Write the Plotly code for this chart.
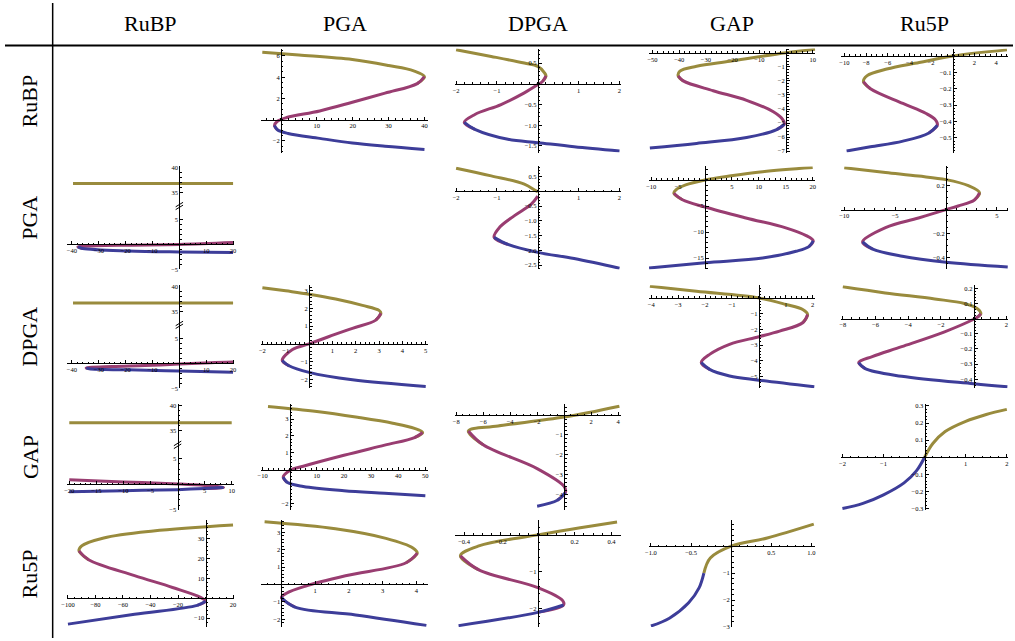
import plotly.graph_objects as go

W, H = 1015, 641
names = ["RuBP", "PGA", "DPGA", "GAP", "Ru5P"]

OLIVE = "rgb(153,139,61)"
PURPLE = "rgb(153,61,113)"
BLUE = "rgb(61,61,153)"

# ---------------- data ----------------
# row RuBP
RuBP_PGA_olive = [(-5.2, 6.36), (5, 6.1), (19.9, 5.67), (30, 5.1), (37, 4.6), (40, 4.05)]
RuBP_PGA_purple = [(40, 4.05), (38, 3.4), (29, 2.5), (19.9, 1.64), (10.8, 0.82), (1.6, 0.2), (-1, -0.15), (-1.8, -0.55)]
RuBP_PGA_blue = [(-1.8, -0.55), (-1, -0.95), (2, -1.3), (10.8, -1.76), (19.9, -2.2), (29, -2.5), (40, -2.8)]

RuBP_DPGA_olive = [(-2, 0.82), (-1.14, 0.66), (-0.33, 0.5), (0, 0.42), (0.16, 0.27), (0.2, 0.19)]
RuBP_DPGA_purple = [(0.2, 0.19), (0.12, 0.06), (0, -0.02), (-0.33, -0.22), (-0.9, -0.5), (-1.54, -0.74), (-1.8, -0.93)]
RuBP_DPGA_blue = [(-1.8, -0.93), (-1.54, -1.1), (-0.73, -1.34), (0, -1.42), (0.89, -1.52), (2, -1.62)]

RuBP_GAP_olive = [(10.9, 0.25), (0, 0), (-21, -0.6), (-33.5, -0.96), (-39.75, -1.3), (-40.4, -1.65)]
RuBP_GAP_purple = [(-40.4, -1.65), (-38.5, -2.0), (-27.3, -2.7), (-14.75, -3.38), (-4.75, -4.2), (-1.2, -4.75), (-0.6, -5.07)]
RuBP_GAP_blue = [(-0.6, -5.07), (-3.5, -5.46), (-14.75, -6.03), (-33.5, -6.45), (-51, -6.77)]

RuBP_Ru5P_olive = [(5, 0.037), (0, 0), (-3.1, -0.04), (-6.1, -0.08), (-7.9, -0.12), (-8.25, -0.157)]
RuBP_Ru5P_purple = [(-8.25, -0.157), (-7.6, -0.2), (-4.6, -0.29), (-2.5, -0.35), (-1.6, -0.39), (-1.42, -0.423)]
RuBP_Ru5P_blue = [(-1.42, -0.423), (-2.2, -0.47), (-4.6, -0.52), (-7.6, -0.555), (-9.8, -0.58)]

# row PGA
PGA_RuBP_olive = [(-39.6, 36.8), (20, 36.8)]
PGA_RuBP_purple = [(20, 0.38), (0, 0.0), (-19, -0.13), (-31, -0.25), (-37.8, -0.5)]
PGA_RuBP_blue = [(-37.8, -0.5), (-36, -0.8), (-19, -1.3), (0, -1.5), (20, -1.6)]

PGA_DPGA_olive = [(-2, 0.79), (-1.14, 0.53), (-0.33, 0.25), (-0.04, 0.02), (0, 0)]
PGA_DPGA_purple = [(0, -0.16), (-0.16, -0.43), (-0.57, -0.82), (-0.93, -1.21), (-1.07, -1.56)]
PGA_DPGA_blue = [(-1.07, -1.56), (-0.73, -1.8), (0, -2.07), (0.89, -2.28), (2, -2.61)]

PGA_GAP_olive = [(20, 2.4), (10.7, 1.6), (4.5, 0.76), (0, 0), (-3.6, -0.95), (-5.4, -1.9), (-5.8, -2.55)]
PGA_GAP_purple = [(-5.8, -2.55), (-4.2, -3.8), (0, -5.2), (7.6, -7.3), (15, -9.2), (18.8, -10.7), (20.1, -11.7)]
PGA_GAP_blue = [(20.1, -11.7), (19.3, -12.8), (16.9, -13.7), (10.7, -15), (0, -15.9), (-10.4, -16.9)]

PGA_Ru5P_olive = [(-10, 0.35), (-5.94, 0.31), (-2.7, 0.28), (0, 0.25), (2.2, 0.2), (3.3, 0.14)]
PGA_Ru5P_purple = [(3.3, 0.14), (2.8, 0.08), (1.2, 0.03), (0, 0), (-2.7, -0.07), (-5.94, -0.15), (-8.2, -0.27)]
PGA_Ru5P_blue = [(-8.2, -0.27), (-7.2, -0.33), (-4.3, -0.39), (0, -0.44), (6.07, -0.48)]

# row DPGA
DPGA_RuBP_olive = [(-39.6, 36.65), (20, 36.65)]
DPGA_RuBP_purple = [(20, 0.26), (11.6, 0.13), (0, -0.13), (-12.8, -0.45), (-25, -0.64), (-34.7, -0.92)]
DPGA_RuBP_blue = [(-34.7, -0.92), (-33.5, -1.1), (-19, -1.3), (0, -1.55), (20, -1.8)]

DPGA_PGA_olive = [(-2, 3.17), (-1, 2.99), (0, 2.8), (1.14, 2.53), (2.29, 2.17), (3, 1.89), (3.08, 1.73)]
DPGA_PGA_purple = [(3.08, 1.73), (2.86, 1.34), (1.86, 0.88), (0.86, 0.42), (0, 0), (-0.71, -0.31), (-1.15, -0.93)]
DPGA_PGA_blue = [(-1.15, -0.93), (-0.86, -1.23), (0, -1.6), (1.86, -2.02), (5, -2.39)]

DPGA_GAP_olive = [(-4.05, 0.74), (-2.32, 0.42), (0, 0), (1.01, -0.42), (1.63, -0.74), (1.81, -1.05)]
DPGA_GAP_purple = [(1.81, -1.05), (1.63, -1.58), (0.77, -2.11), (0, -2.47), (-1.09, -2.95), (-1.83, -3.59), (-2.14, -4.11)]
DPGA_GAP_blue = [(-2.14, -4.11), (-1.83, -4.54), (-1.09, -4.96), (0, -5.23), (2.06, -5.65)]

DPGA_Ru5P_olive = [(-8, 0.21), (-5.41, 0.17), (-2.38, 0.13), (-0.57, 0.1), (0.24, 0.065), (0.44, 0.033)]
DPGA_Ru5P_purple = [(0.44, 0.033), (0.24, 0.011), (0, -0.004), (-1.78, -0.087), (-4.4, -0.185), (-6.2, -0.25), (-7.03, -0.29)]
DPGA_Ru5P_blue = [(-7.03, -0.29), (-6.63, -0.33), (-4.4, -0.38), (0, -0.43), (2.06, -0.45)]

# row GAP
GAP_RuBP_olive = [(-20, 36.6), (10, 36.6)]
GAP_RuBP_purple = [(-20, 0.9), (-10, 0.5), (0, 0.1), (5, -0.2), (8.5, -0.6)]
GAP_RuBP_blue = [(8.5, -0.6), (5, -0.8), (0, -1.0), (-10, -1.2), (-20, -1.4)]

GAP_PGA_olive = [(-8, 3.75), (10, 3.45), (25, 3.1), (38, 2.75), (46, 2.45), (49, 2.2)]
GAP_PGA_purple = [(49, 2.2), (46, 1.9), (35, 1.45), (20, 0.85), (5, 0.2), (0, -0.05), (-2.4, -0.45)]
GAP_PGA_blue = [(-2.4, -0.45), (-1, -0.75), (5, -1.0), (20, -1.25), (35, -1.4), (50, -1.55)]

GAP_DPGA_olive = [(4.1, 0.45), (0, -0.1), (-4.9, -0.55), (-7.1, -0.8)]
GAP_DPGA_purple = [(-7.1, -0.8), (-6, -1.5), (-2, -2.7), (0, -3.6), (0.1, -3.9)]
GAP_DPGA_blue = [(0.1, -3.9), (-0.5, -4.3), (-2, -4.6)]

GAP_Ru5P_olive = [(0, 0), (0.2, 0.08), (0.5, 0.15), (1, 0.21), (1.5, 0.25), (2, 0.28)]
GAP_Ru5P_purple = []
GAP_Ru5P_blue = [(-2, -0.3), (-1.5, -0.27), (-1, -0.22), (-0.5, -0.15), (-0.2, -0.08), (0, 0)]

# row Ru5P
Ru5P_RuBP_olive = [(20, 37), (-38, 34), (-74, 30.5), (-90, 26.5), (-92, 24)]
Ru5P_RuBP_purple = [(-92, 24), (-85, 19.5), (-51.6, 11.5), (-24, 5.5), (-3.6, 0.5), (0, -1.5)]
Ru5P_RuBP_blue = [(0, -1.5), (-6, -3.5), (-51.6, -8), (-100, -13)]

Ru5P_PGA_olive = [(-0.5, 3.6), (1.6, 3.2), (3.1, 2.65), (3.9, 2.1), (4.03, 1.8)]
Ru5P_PGA_purple = [(4.03, 1.8), (3.7, 1.25), (1.9, 0.5), (0.7, -0.1), (0.15, -0.5), (0, -0.75)]
Ru5P_PGA_blue = [(0, -0.75), (0.4, -1.3), (2.2, -1.75), (4.3, -2.35)]

Ru5P_DPGA_olive = [(0.43, 0.35), (0, 0), (-0.32, -0.3), (-0.42, -0.57)]
Ru5P_DPGA_purple = [(-0.42, -0.57), (-0.32, -0.95), (0, -1.43), (0.135, -1.78), (0.14, -1.9)]
Ru5P_DPGA_blue = [(0.14, -1.9), (0, -2.1), (-0.43, -2.46)]

Ru5P_GAP_olive = [(-0.34, -1.0), (-0.26, -0.44), (0, 0), (0.45, 0.3), (1.03, 0.81)]
Ru5P_GAP_purple = []
Ru5P_GAP_blue = [(-1, -2.96), (-0.77, -2.67), (-0.53, -2.1), (-0.4, -1.55), (-0.34, -1.0)]

# ---------------- panel axes (ranges / ticks) ----------------
panels = {
    (0, 1): dict(xr=[-5.5, 41], yr=[-3.1, 6.7], xt=[10, 20, 30, 40], yt=[-2, 2, 4, 6], xd=0, yd=0, xm=2, ym=0.5),
    (0, 2): dict(xr=[-2.03, 2.03], yr=[-1.66, 0.85], xt=[-2, -1, 1, 2], yt=[-1.5, -1.0, -0.5, 0.5], xd=0, yd=1, xm=0.2, ym=0.1),
    (0, 3): dict(xr=[-51.5, 11], yr=[-7.1, 0.3], xt=[-50, -40, -30, -20, -10, 10], yt=[-7, -6, -5, -4, -3, -2, -1], xd=0, yd=0, xm=2, ym=0.2),
    (0, 4): dict(xr=[-10.3, 5.1], yr=[-0.59, 0.045], xt=[-10, -8, -6, -4, -2, 2, 4], yt=[-0.5, -0.4, -0.3, -0.2, -0.1], xd=0, yd=1, xm=0.5, ym=0.02),
    (1, 0): dict(xr=[-42, 20.5], yr=[-5, 15.6], xt=[-40, -30, -20, -10, 10, 20], yt=[-5, 5, 35, 40], xd=0, yd=0, xm=2, ym=None, broken=True),
    (1, 2): dict(xr=[-2.03, 2.03], yr=[-2.65, 0.85], xt=[-2, -1, 1, 2], yt=[-2.5, -2.0, -1.5, -1.0, -0.5, 0.5], xd=0, yd=1, xm=0.2, ym=0.1),
    (1, 3): dict(xr=[-10.5, 20.5], yr=[-17.2, 2.6], xt=[-10, -5, 5, 10, 15, 20], yt=[-15, -10, -5], xd=0, yd=0, xm=1, ym=1),
    (1, 4): dict(xr=[-10.3, 6.1], yr=[-0.5, 0.36], xt=[-10, -5, 5], yt=[-0.4, -0.2, 0.2], xd=0, yd=1, xm=1, ym=0.05),
    (2, 0): dict(xr=[-42, 20.5], yr=[-5, 15.6], xt=[-40, -30, -20, -10, 10, 20], yt=[-5, 5, 35, 40], xd=0, yd=0, xm=2, ym=None, broken=True),
    (2, 1): dict(xr=[-2.05, 5.1], yr=[-2.5, 3.3], xt=[-2, -1, 1, 2, 3, 4, 5], yt=[-2, -1, 1, 2, 3], xd=0, yd=0, xm=0.2, ym=0.2),
    (2, 3): dict(xr=[-4.1, 2.1], yr=[-5.75, 0.8], xt=[-4, -3, -2, -1, 1, 2], yt=[-5, -4, -3, -2, -1], xd=0, yd=0, xm=0.2, ym=0.2),
    (2, 4): dict(xr=[-8.1, 2.1], yr=[-0.46, 0.22], xt=[-8, -6, -4, -2, 2], yt=[-0.4, -0.3, -0.2, -0.1, 0.1, 0.2], xd=0, yd=1, xm=0.5, ym=0.02),
    (3, 0): dict(xr=[-20.5, 10.5], yr=[-5, 15.6], xt=[-20, -15, -10, -5, 5, 10], yt=[-5, 5, 35, 40], xd=0, yd=0, xm=1, ym=None, broken=True),
    (3, 1): dict(xr=[-10.5, 51], yr=[-2.41, 3.88], xt=[-10, 10, 20, 30, 40, 50], yt=[-2, 1, 2, 3], xd=0, yd=0, xm=2, ym=0.2),
    (3, 2): dict(xr=[-8.1, 4.2], yr=[-4.8, 0.55], xt=[-8, -6, -4, -2, 2, 4], yt=[-4, -3, -2, -1], xd=0, yd=0, xm=0.5, ym=0.2),
    (3, 4): dict(xr=[-2.03, 2.03], yr=[-0.31, 0.31], xt=[-2, -1, 1, 2], yt=[-0.3, -0.2, -0.1, 0.1, 0.2, 0.3], xd=0, yd=1, xm=0.2, ym=0.02),
    (4, 0): dict(xr=[-101, 21], yr=[-14.5, 39.5], xt=[-100, -80, -60, -40, -20, 20], yt=[-10, 10, 20, 30], xd=0, yd=0, xm=5, ym=2),
    (4, 1): dict(xr=[-0.6, 4.35], yr=[-2.45, 3.7], xt=[1, 2, 3, 4], yt=[-2, -1, 1, 2, 3], xd=0, yd=0, xm=0.2, ym=0.2),
    (4, 2): dict(xr=[-0.45, 0.45], yr=[-2.5, 0.4], xt=[-0.4, -0.2, 0.2, 0.4], yt=[-2, -1], xd=1, yd=0, xm=0.05, ym=0.2),
    (4, 3): dict(xr=[-1.03, 1.05], yr=[-3.0, 0.96], xt=[-1.0, -0.5, 0.5, 1.0], yt=[-3, -2, -1], xd=1, yd=0, xm=0.1, ym=0.2),
}

curves = {
    (0, 1): (RuBP_PGA_olive, RuBP_PGA_purple, RuBP_PGA_blue),
    (0, 2): (RuBP_DPGA_olive, RuBP_DPGA_purple, RuBP_DPGA_blue),
    (0, 3): (RuBP_GAP_olive, RuBP_GAP_purple, RuBP_GAP_blue),
    (0, 4): (RuBP_Ru5P_olive, RuBP_Ru5P_purple, RuBP_Ru5P_blue),
    (1, 0): (PGA_RuBP_olive, PGA_RuBP_purple, PGA_RuBP_blue),
    (1, 2): (PGA_DPGA_olive, PGA_DPGA_purple, PGA_DPGA_blue),
    (1, 3): (PGA_GAP_olive, PGA_GAP_purple, PGA_GAP_blue),
    (1, 4): (PGA_Ru5P_olive, PGA_Ru5P_purple, PGA_Ru5P_blue),
    (2, 0): (DPGA_RuBP_olive, DPGA_RuBP_purple, DPGA_RuBP_blue),
    (2, 1): (DPGA_PGA_olive, DPGA_PGA_purple, DPGA_PGA_blue),
    (2, 3): (DPGA_GAP_olive, DPGA_GAP_purple, DPGA_GAP_blue),
    (2, 4): (DPGA_Ru5P_olive, DPGA_Ru5P_purple, DPGA_Ru5P_blue),
    (3, 0): (GAP_RuBP_olive, GAP_RuBP_purple, GAP_RuBP_blue),
    (3, 1): (GAP_PGA_olive, GAP_PGA_purple, GAP_PGA_blue),
    (3, 2): (GAP_DPGA_olive, GAP_DPGA_purple, GAP_DPGA_blue),
    (3, 4): (GAP_Ru5P_olive, GAP_Ru5P_purple, GAP_Ru5P_blue),
    (4, 0): (Ru5P_RuBP_olive, Ru5P_RuBP_purple, Ru5P_RuBP_blue),
    (4, 1): (Ru5P_PGA_olive, Ru5P_PGA_purple, Ru5P_PGA_blue),
    (4, 2): (Ru5P_DPGA_olive, Ru5P_DPGA_purple, Ru5P_DPGA_blue),
    (4, 3): (Ru5P_GAP_olive, Ru5P_GAP_purple, Ru5P_GAP_blue),
}

# ---------------- geometry ----------------
col_x = [(62, 231), (258, 426), (453, 620), (648, 816), (842, 1010)]
row_y = [(46, 151), (165, 269), (285, 389), (405, 512), (522, 630)]

BREAK_LO, BREAK_HI, BREAK_GAP = 5.0, 35.0, 5.4


def brk(y):
    return y if y <= BREAK_LO else y - BREAK_HI + BREAK_LO + BREAK_GAP


def fmt(v, d):
    s = f"{v:.{d}f}"
    return s.replace("-", "\u2212")


TICKFONT = dict(family="Liberation Serif", size=6.5, color="black")

fig = go.Figure()
layout = {}
shapes = []
k = 0
for (r, c), sp in panels.items():
    k += 1
    xa, ya = f"x{k}", f"y{k}"
    x0p, x1p = col_x[c]
    y0p, y1p = row_y[r]
    dx = [x0p / W, x1p / W]
    dy = [1 - y1p / H, 1 - y0p / H]
    xr, yr = sp["xr"], sp["yr"]
    broken = sp.get("broken", False)
    fy = dy[0] + (0 - yr[0]) / (yr[1] - yr[0]) * (dy[1] - dy[0])
    fx = dx[0] + (0 - xr[0]) / (xr[1] - xr[0]) * (dx[1] - dx[0])

    layout[f"xaxis{k}"] = dict(
        domain=dx, range=xr, anchor="free", position=fy,
        showline=True, linecolor="black", linewidth=1,
        ticks="inside", ticklen=3, tickwidth=0.8, tickcolor="black",
        tickvals=sp["xt"], ticktext=[fmt(v, sp["xd"]) for v in sp["xt"]],
        tickfont=TICKFONT, showgrid=False, zeroline=False, fixedrange=True,
        minor=dict(dtick=sp["xm"], tick0=0, ticks="inside", ticklen=1.5,
                   tickwidth=0.6, tickcolor="black", showgrid=False),
    )
    if broken:
        yt = [brk(v) for v in sp["yt"]]
        ytt = [fmt(v, 0) for v in sp["yt"]]
        yminor = dict(tickvals=[v for v in range(-4, 5)] + [brk(36), brk(37), brk(38), brk(39)],
                      ticks="inside", ticklen=1.5, tickwidth=0.6, tickcolor="black", showgrid=False)
    else:
        yt = sp["yt"]
        ytt = [fmt(v, sp["yd"]) for v in sp["yt"]]
        yminor = dict(dtick=sp["ym"], tick0=0, ticks="inside", ticklen=1.5,
                      tickwidth=0.6, tickcolor="black", showgrid=False)
    layout[f"yaxis{k}"] = dict(
        domain=dy, range=yr, anchor="free", position=fx,
        showline=True, linecolor="black", linewidth=1,
        ticks="inside", ticklen=3, tickwidth=0.8, tickcolor="black",
        tickvals=yt, ticktext=ytt,
        tickfont=TICKFONT, showgrid=False, zeroline=False, fixedrange=True,
        minor=yminor,
    )

    segs = curves[(r, c)]
    for i, (pts, col) in enumerate(zip(segs, (OLIVE, PURPLE, BLUE))):
        if not pts:
            continue
        pts = list(pts)
        # carry one point past a shared turning point so the spline turns smoothly
        if i < 2:
            nxt = segs[i + 1]
            if nxt and len(nxt) > 1 and tuple(nxt[0]) == tuple(pts[-1]):
                pts = pts + [nxt[1]]
        xs = [p[0] for p in pts]
        ys = [brk(p[1]) if broken else p[1] for p in pts]
        fig.add_trace(go.Scatter(
            x=xs, y=ys, mode="lines", xaxis=xa, yaxis=ya,
            line=dict(color=col, width=3, shape="spline", smoothing=1.0),
            hoverinfo="skip", showlegend=False, cliponaxis=True,
        ))

    if broken:
        xw = (xr[1] - xr[0]) * 0.022
        ymid = brk(5) + BREAK_GAP * 0.5
        for off in (-0.28, 0.28):
            shapes.append(dict(type="line", xref=xa, yref=ya,
                               x0=-xw, x1=xw, y0=ymid + off - 0.45, y1=ymid + off + 0.45,
                               line=dict(color="black", width=1)))

# table rules
shapes.append(dict(type="line", xref="paper", yref="paper", x0=0, x1=1,
                   y0=1 - 43 / H, y1=1 - 43 / H, line=dict(color="black", width=2)))
shapes.append(dict(type="line", xref="paper", yref="paper", x0=48 / W, x1=48 / W,
                   y0=0, y1=1, line=dict(color="black", width=1.5)))

annotations = []
HFONT = dict(family="Liberation Serif", size=22, color="black")
for i, n in enumerate(names):
    cx = (col_x[i][0] + col_x[i][1]) / 2 / W
    annotations.append(dict(text=n, x=cx, y=1 - 21 / H, xref="paper", yref="paper",
                            showarrow=False, font=HFONT, xanchor="center", yanchor="middle"))
    cy = 1 - (row_y[i][0] + row_y[i][1]) / 2 / H
    annotations.append(dict(text=n, x=25 / W, y=cy, xref="paper", yref="paper",
                            showarrow=False, font=HFONT, textangle=-90,
                            xanchor="center", yanchor="middle"))

fig.update_layout(
    width=W, height=H, margin=dict(l=0, r=0, t=0, b=0),
    paper_bgcolor="white", plot_bgcolor="white",
    shapes=shapes, annotations=annotations, showlegend=False,
    **layout,
)
fig.write_html("out.html", config={"displayModeBar": False},
               post_script="document.body.style.margin='0';document.body.style.overflow='hidden';")
